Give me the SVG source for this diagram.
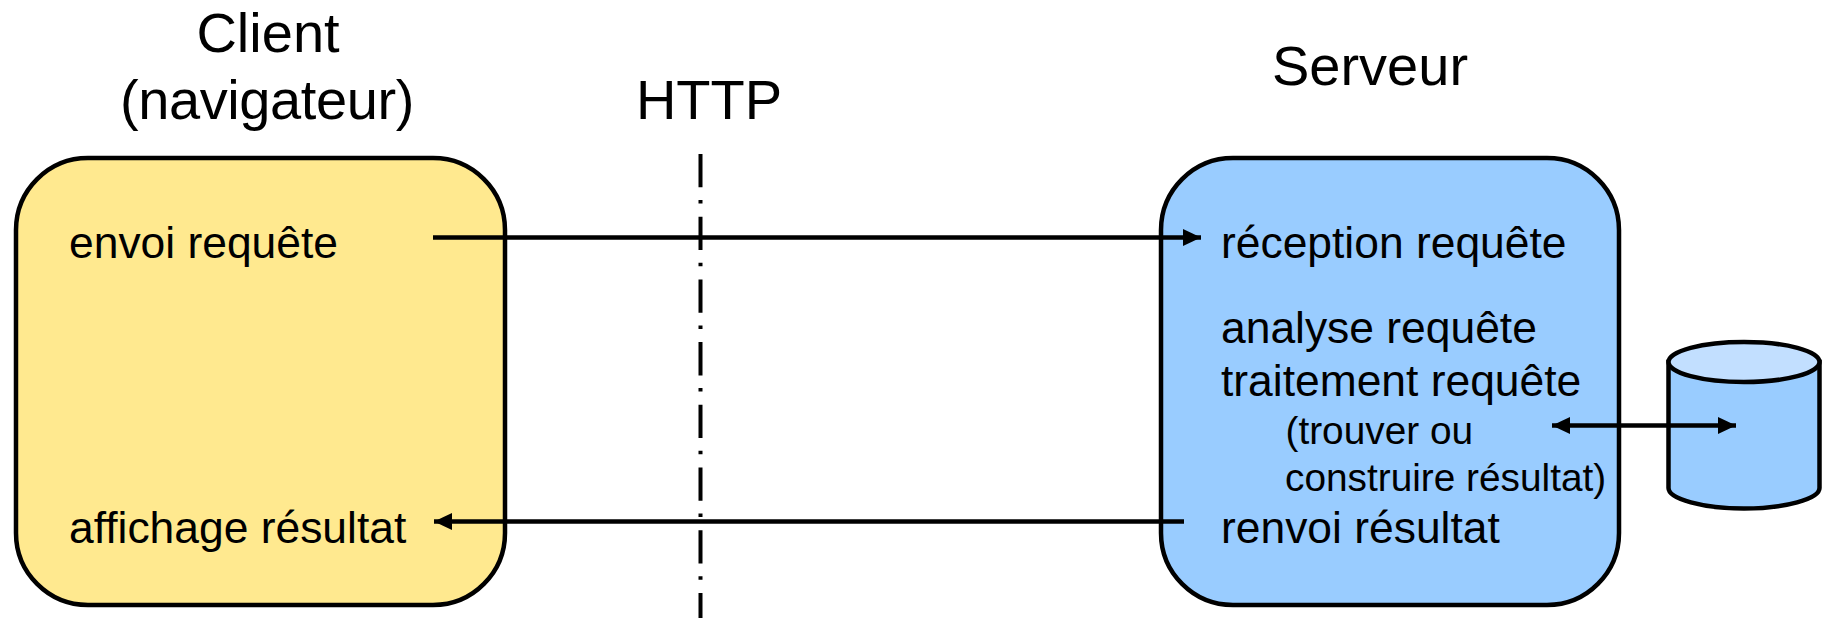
<svg xmlns="http://www.w3.org/2000/svg" width="1828" height="619" viewBox="0 0 1828 619">
<style>
text{font-family:"Liberation Sans",Arial,sans-serif;fill:#000}
.h{font-size:56px;text-anchor:middle}
.b{font-size:44.4px}
.s{font-size:38.8px}
.box{stroke:#000;stroke-width:4.5}
.c{stroke:#000;stroke-width:4.5;fill:none}
</style>
<defs>
<marker id="a" markerUnits="userSpaceOnUse" markerWidth="19" markerHeight="20" refX="18" refY="10" orient="auto-start-reverse" viewBox="0 0 19 20"><path d="M0 1.5L18 10L0 18.5Z" fill="#000"/></marker>
</defs>
<rect width="1828" height="619" fill="#fff"/>
<g id="client">
<rect class="box" x="16" y="158" width="489" height="447" rx="72" ry="72" fill="#FFE98F"/>
<text class="h" x="268" y="52">Client</text>
<text class="h" x="267" y="118.5" style="letter-spacing:-.4px">(navigateur)</text>
<text class="b" x="69" y="258">envoi requête</text>
<text class="b" x="69" y="543">affichage résultat</text>
</g>
<g id="http">
<text class="h" x="709" y="118.5">HTTP</text>
</g>
<g id="serveur">
<rect class="box" x="1161" y="158" width="458" height="447" rx="72" ry="72" fill="#99CCFF"/>
<text class="h" x="1370" y="85">Serveur</text>
<text class="b" x="1221" y="258">réception requête</text>
<text class="b" x="1221" y="342.5">analyse requête</text>
<text class="b" x="1221" y="395.5">traitement requête</text>
<text class="s" x="1285.5" y="444">(trouver ou</text>
<text class="s" x="1285" y="491">construire résultat)</text>
<text class="b" x="1221" y="543">renvoi résultat</text>
</g>
<g id="base">
<path class="box" d="M1668.5 362V488C1668.5 499 1703 508.5 1744 508.5S1819.5 499 1819.5 488V362Z" fill="#99CCFF"/>
<ellipse class="box" cx="1744" cy="362" rx="75.5" ry="20" fill="#C2DFFF"/>
</g>
<g id="connectors">
<path d="M700.5 154V618" stroke="#000" stroke-width="4" fill="none" stroke-dasharray="33.3 12.7 3.5 13.2"/>
<path class="c" d="M433 237.5H1201" marker-end="url(#a)"/>
<path class="c" d="M1184 521.5H434" marker-end="url(#a)"/>
<path class="c" d="M1552 425.5H1736" marker-start="url(#a)" marker-end="url(#a)"/>
</g>
</svg>
